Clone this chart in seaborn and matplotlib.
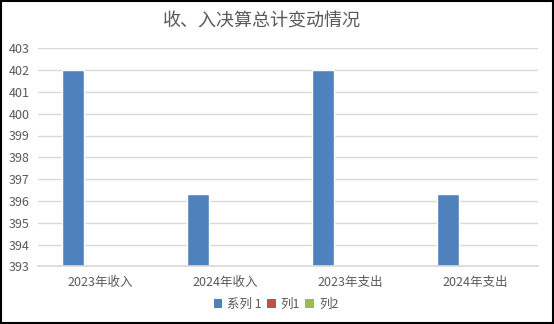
import matplotlib
matplotlib.use("Agg")
import matplotlib.pyplot as plt
import seaborn as sns
import pandas as pd
import numpy as np
from matplotlib.patches import Rectangle, Patch

categories = ["2023年收入", "2024年收入", "2023年支出", "2024年支出"]
series_names = ["系列 1", "列1", "列2"]
values_s1 = [402.0, 396.3, 402.0, 396.3]
values_l1 = [np.nan, np.nan, np.nan, np.nan]
values_l2 = [np.nan, np.nan, np.nan, np.nan]
colors = ["#4F81BD", "#C0504D", "#9BBB59"]
title = "收、入决算总计变动情况"

sns.set_theme(style="white")
plt.rcParams["font.family"] = ["Noto Sans CJK SC", "DejaVu Sans"]

rows = []
for s, vals in zip(series_names, [values_s1, values_l1, values_l2]):
    for c, v in zip(categories, vals):
        rows.append({"cat": c, "series": s, "value": v})
df = pd.DataFrame(rows)

fig = plt.figure(figsize=(5.54, 3.24), dpi=100)
ax = fig.add_axes([38/554, (324-266.3)/324, (538-38)/554, (266.3-48.3)/324])
sns.barplot(data=df, x="cat", y="value", hue="series", order=categories,
            hue_order=series_names, palette=colors, width=0.66, gap=0.2,
            errorbar=None, ax=ax, legend=False, saturation=1)
ax.set_ylim(393, 403)
ax.set_xlim(-0.5, 3.5)
ax.set_yticks(range(393, 404))
ax.yaxis.grid(True, color="#D9D9D9", linewidth=1)
ax.set_axisbelow(True)
for sp in ["top", "right", "left"]:
    ax.spines[sp].set_visible(False)
ax.spines["bottom"].set_color("#D9D9D9")
ax.set_xlabel("")
ax.set_ylabel("")
ax.tick_params(axis="both", length=0, labelsize=9, colors="#595959", pad=6)
ax.tick_params(axis="x", pad=7)

fig.text(262/554, 1 - 22/324, title, ha="center", va="center", fontsize=13, color="#595959")

handles = [Patch(facecolor=c, edgecolor="none") for c in colors]
fig.legend(handles, series_names, loc="center", bbox_to_anchor=(276/554, 1 - 304/324),
           ncol=3, frameon=False, fontsize=9, labelcolor="#595959",
           handlelength=0.7, handleheight=0.7, handletextpad=0.4, columnspacing=0.4)

fig.add_artist(Rectangle((0.002, 0.003), 0.996, 0.994, transform=fig.transFigure,
                         fill=False, edgecolor="black", linewidth=1.5))
fig.savefig("out.png", dpi=100, facecolor="white")
